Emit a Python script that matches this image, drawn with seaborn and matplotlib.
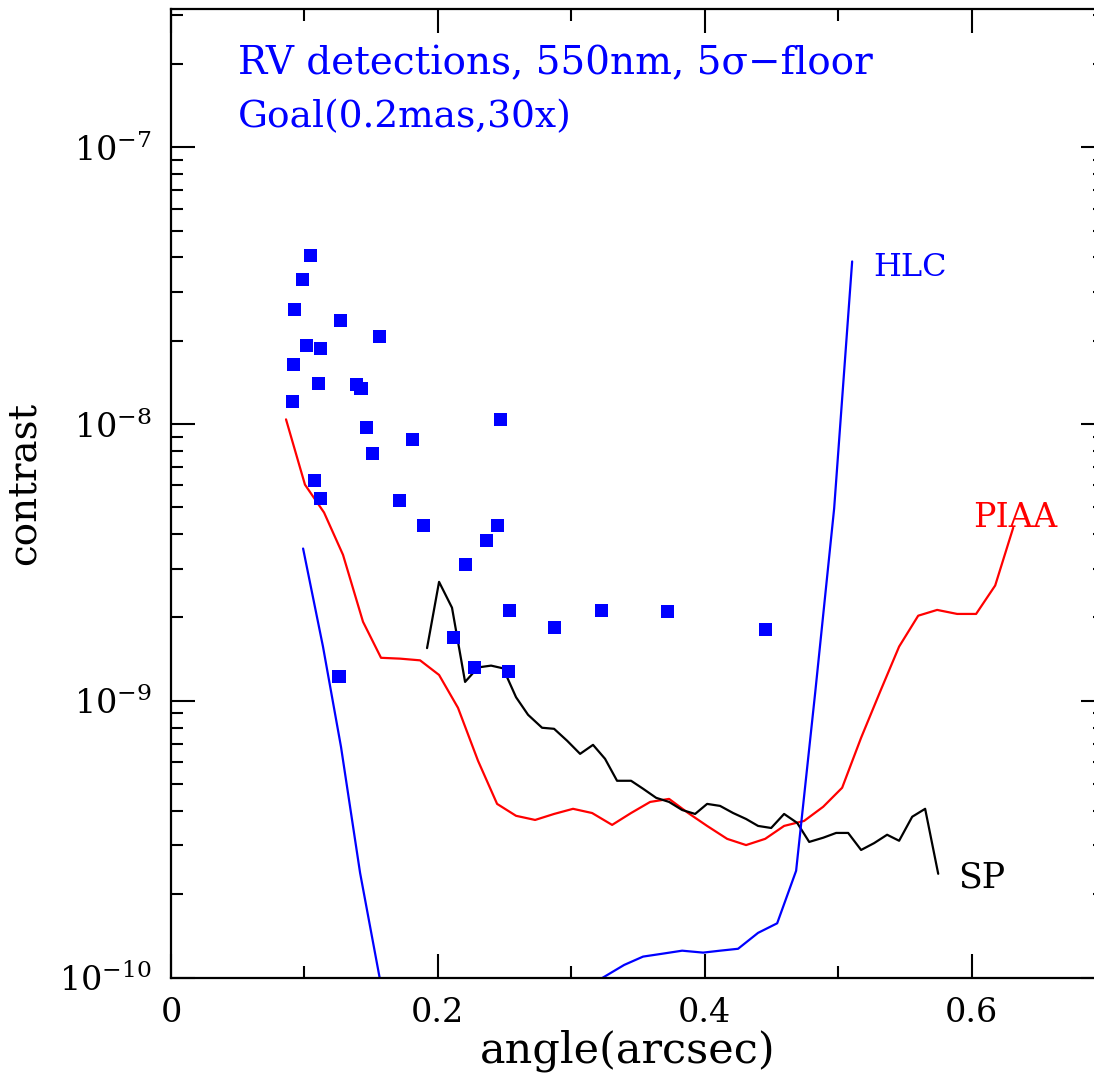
import numpy as np
import pandas as pd
import matplotlib
matplotlib.use("Agg")
import matplotlib.pyplot as plt
import seaborn as sns
from matplotlib.ticker import FixedLocator, FixedFormatter, LogLocator, NullFormatter, MultipleLocator

# ---------------- data ----------------
rv_angle = [0.1049, 0.0982, 0.0922, 0.1267, 0.1019, 0.1124, 0.1559, 0.0915,
            0.1109, 0.1387, 0.1424, 0.0907, 0.1462, 0.2466, 0.1807, 0.1507,
            0.1072, 0.1117, 0.1709, 0.1889, 0.2444, 0.2361, 0.2204, 0.2534,
            0.3223, 0.3718, 0.2871, 0.4453, 0.2114, 0.2271, 0.2526, 0.1259]
rv_contrast = [4.07e-8, 3.33e-8, 2.59e-8, 2.37e-8, 1.92e-8, 1.88e-8, 2.07e-8, 1.64e-8,
               1.40e-8, 1.39e-8, 1.34e-8, 1.21e-8, 9.71e-9, 1.04e-8, 8.79e-9, 7.82e-9,
               6.25e-9, 5.38e-9, 5.29e-9, 4.30e-9, 4.30e-9, 3.79e-9, 3.10e-9, 2.12e-9,
               2.12e-9, 2.10e-9, 1.84e-9, 1.81e-9, 1.69e-9, 1.32e-9, 1.28e-9, 1.22e-9]

piaa_angle = [0.0862, 0.1004, 0.1147, 0.1289, 0.1439, 0.1574, 0.1717, 0.1867,
              0.2009, 0.2151, 0.2301, 0.2444, 0.2586, 0.2729, 0.2871, 0.3013,
              0.3156, 0.3306, 0.3448, 0.3591, 0.3733, 0.3876, 0.4018, 0.4168,
              0.4310, 0.4453, 0.4595, 0.4745, 0.4888, 0.5030, 0.5172, 0.5315,
              0.5457, 0.5600, 0.5742, 0.5892, 0.6034, 0.6177, 0.6312]
piaa_contrast = [1.04e-8, 6.04e-9, 4.79e-9, 3.37e-9, 1.93e-9, 1.43e-9, 1.42e-9, 1.40e-9,
                 1.24e-9, 9.43e-10, 6.07e-10, 4.24e-10, 3.84e-10, 3.71e-10, 3.90e-10, 4.07e-10,
                 3.93e-10, 3.56e-10, 3.93e-10, 4.31e-10, 4.42e-10, 3.93e-10, 3.53e-10, 3.17e-10,
                 3.01e-10, 3.17e-10, 3.53e-10, 3.68e-10, 4.14e-10, 4.85e-10, 7.35e-10, 1.08e-9,
                 1.57e-9, 2.03e-9, 2.13e-9, 2.06e-9, 2.06e-9, 2.61e-9, 4.22e-9]

sp_angle = [0.1919, 0.2009, 0.2106, 0.2204, 0.2301, 0.2399, 0.2489, 0.2586,
            0.2676, 0.2781, 0.2871, 0.2969, 0.3066, 0.3163, 0.3253, 0.3343,
            0.3448, 0.3538, 0.3636, 0.3733, 0.3831, 0.3928, 0.4018, 0.4115,
            0.4213, 0.4310, 0.4400, 0.4498, 0.4595, 0.4693, 0.4783, 0.4888,
            0.4985, 0.5075, 0.5172, 0.5270, 0.5367, 0.5457, 0.5555, 0.5652, 0.5750]
sp_contrast = [1.55e-9, 2.69e-9, 2.17e-9, 1.17e-9, 1.32e-9, 1.34e-9, 1.31e-9, 1.03e-9,
               8.90e-10, 7.99e-10, 7.92e-10, 7.17e-10, 6.43e-10, 6.93e-10, 6.17e-10, 5.14e-10,
               5.14e-10, 4.81e-10, 4.46e-10, 4.31e-10, 4.03e-10, 3.90e-10, 4.24e-10, 4.17e-10,
               3.93e-10, 3.74e-10, 3.53e-10, 3.47e-10, 3.90e-10, 3.62e-10, 3.09e-10, 3.20e-10,
               3.33e-10, 3.33e-10, 2.89e-10, 3.06e-10, 3.28e-10, 3.12e-10, 3.81e-10, 4.07e-10, 2.37e-10]

hlc_inner_angle = [0.0990, 0.1139, 0.1274, 0.1417, 0.1565]
hlc_inner_contrast = [3.55e-9, 1.57e-9, 6.82e-10, 2.39e-10, 0.99e-10]

hlc_outer_angle = [0.3223, 0.3396, 0.3538, 0.3688, 0.3831, 0.3988, 0.4115, 0.4250,
                   0.4400, 0.4543, 0.4685, 0.4828, 0.4970, 0.5105]
hlc_outer_contrast = [0.99e-10, 1.11e-10, 1.19e-10, 1.22e-10, 1.25e-10, 1.23e-10, 1.25e-10, 1.27e-10,
                      1.45e-10, 1.57e-10, 2.43e-10, 1.07e-9, 4.95e-9, 3.87e-8]

x_ticks = [0, 0.2, 0.4, 0.6]
x_ticklabels = ["0", "0.2", "0.4", "0.6"]
y_ticks = [1e-10, 1e-9, 1e-8, 1e-7]
y_ticklabels = [r"$10^{-10}$", r"$10^{-9}$", r"$10^{-8}$", r"$10^{-7}$"]

# ---------------- style ----------------
sns.set_theme(style="ticks")
plt.rcParams["font.family"] = ["DejaVu Serif", "DejaVu Sans"]
plt.rcParams["mathtext.fontset"] = "dejavuserif"

W, H = 1094, 1086
fig = plt.figure(figsize=(W / 100, H / 100), dpi=100)
left_px, right_px, top_px, bot_px = 171, 1105, 9, 977.5
ax = fig.add_axes([left_px / W, (H - bot_px) / H, (right_px - left_px) / W, (bot_px - top_px) / H])
ax.set_facecolor("white")
ax.set_yscale("log")

lw = 1.6
sns.lineplot(x=piaa_angle, y=piaa_contrast, ax=ax, color="red", lw=lw, sort=False, estimator=None)
sns.lineplot(x=sp_angle, y=sp_contrast, ax=ax, color="black", lw=lw, sort=False, estimator=None)
sns.lineplot(x=hlc_inner_angle, y=hlc_inner_contrast, ax=ax, color="blue", lw=lw, sort=False, estimator=None)
sns.lineplot(x=hlc_outer_angle, y=hlc_outer_contrast, ax=ax, color="blue", lw=lw, sort=False, estimator=None)
sns.scatterplot(x=rv_angle, y=rv_contrast, ax=ax, marker="s", s=88, color="blue",
                edgecolor="none", linewidth=0, zorder=3)

ax.set_xlim(0, 0.70)
ax.set_ylim(1e-10, 10 ** -6.5)

ax.xaxis.set_major_locator(FixedLocator(x_ticks))
ax.xaxis.set_major_formatter(FixedFormatter(x_ticklabels))
ax.xaxis.set_minor_locator(MultipleLocator(0.1))
ax.yaxis.set_major_locator(FixedLocator(y_ticks))
ax.yaxis.set_major_formatter(FixedFormatter(y_ticklabels))
ax.yaxis.set_minor_locator(LogLocator(base=10, subs=np.arange(2, 10)))
ax.yaxis.set_minor_formatter(NullFormatter())

ax.tick_params(which="both", direction="in", top=True, right=True, color="black", width=1.5)
ax.tick_params(which="major", length=17, labelsize=24, pad=14, labelcolor="black")
ax.tick_params(which="minor", length=8.5)
for s in ax.spines.values():
    s.set_linewidth(1.6)
    s.set_color("black")

ax.set_xlabel("angle(arcsec)", fontsize=31, color="black")
ax.set_ylabel("contrast", fontsize=28, color="black")
ax.xaxis.set_label_coords(0.489, -0.054)
ax.yaxis.set_label_coords(-0.137, 0.51)

ax.text(0.0717, 0.9329, "RV detections, 550nm, 5σ−floor", transform=ax.transAxes,
        color="blue", fontsize=28, ha="left", va="baseline")
ax.text(0.0717, 0.8782, "Goal(0.2mas,30x)", transform=ax.transAxes,
        color="blue", fontsize=27, ha="left", va="baseline")
ax.text(0.5262, 3.44e-8, "HLC", color="blue", fontsize=23, ha="left", va="baseline")
ax.text(0.6012, 4.26e-9, "PIAA", color="red", fontsize=24, ha="left", va="baseline")
ax.text(0.590, 2.11e-10, "SP", color="black", fontsize=25, ha="left", va="baseline")

fig.savefig("out.png", dpi=100, facecolor="white")
